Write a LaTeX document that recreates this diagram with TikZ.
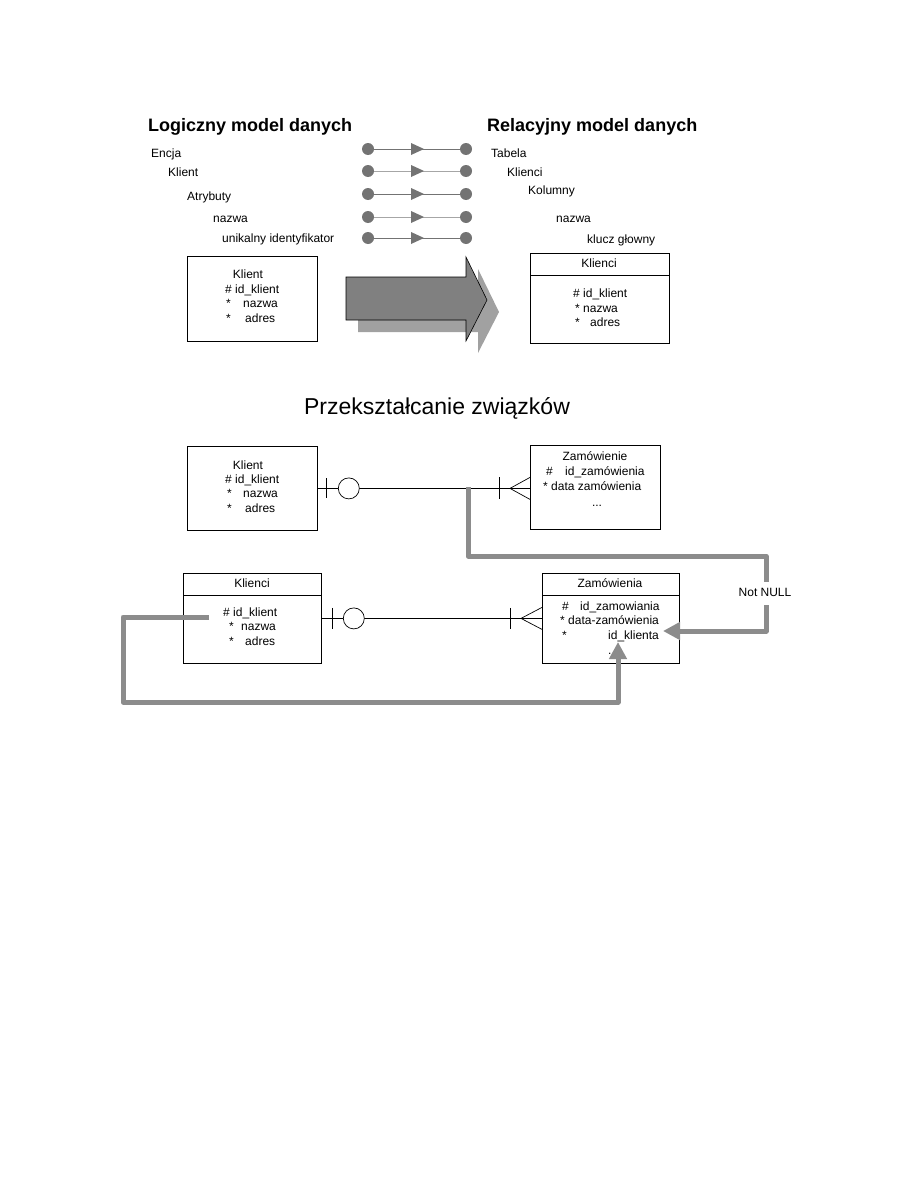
\documentclass[tikz,border=0pt]{standalone}
\usepackage{fontspec}
\setmainfont{Liberation Sans}
\usepackage{tikz}
\usetikzlibrary{arrows.meta,positioning,calc}

\begin{document}
\begin{tikzpicture}[x=1pt, y=-1pt,
    every node/.style={font=\fontsize{12}{14}\selectfont, inner sep=0pt, text height=8.6pt, text depth=2.4pt},
    title/.style={font=\fontsize{18}{20}\selectfont\bfseries, text height=13pt, text depth=4pt},
    box/.style={draw, line width=0.8pt, fill=white},
    rel/.style={line width=0.7pt},
    opt/.style={circle, draw, line width=0.7pt, fill=white, minimum size=21pt},
    ball/.style={circle, fill=black!55, minimum size=12pt, text height=, text depth=},
    fk/.style={line width=5pt, draw=black!45, line join=round, -{Triangle[length=17pt,width=17pt]}},
    lbl/.style={anchor=west}]
  \useasboundingbox (0,0) rectangle (918,1188);

  % Headings
  \node[title, anchor=west] (logic) at (148,127) {Logiczny model danych};
  \node[title, anchor=west] (relac) at (487,127) {Relacyjny model danych};

  % Left list
  \node[lbl] (encja) at (151,154) {Encja};
  \node[lbl] (klientL) at (168,173) {Klient};
  \node[lbl] (atryb) at (187,197) {Atrybuty};
  \node[lbl] (nazwaL) at (213,219) {nazwa};
  \node[lbl] (unik) at (222,239) {unikalny identyfikator};

  % Right list
  \node[lbl] (tabela) at (491,154) {Tabela};
  \node[lbl] (klienciR) at (507,173) {Klienci};
  \node[lbl] (kolumny) at (528,191) {Kolumny};
  \node[lbl] (nazwaR) at (556,219) {nazwa};
  \node[lbl] (klucz) at (587,240) {klucz głowny};

  % Mapping rows
  \foreach \y/\c [count=\i] in {149/55,171/35,194/55,217/35,238/55} {
    \node[ball] (a\i) at (368,\y) {};
    \node[ball] (b\i) at (466,\y) {};
    \draw[draw=black!\c, line width=1pt] (a\i) -- (b\i);
    \fill[black!55] (411,{\y-6}) -- (424,\y) -- (411,{\y+6}) -- cycle;
  }

  % Entity Klient
  \node[box, anchor=north west, minimum width=130pt, minimum height=85pt] (klient1) at (187,256) {};
  \node (k1n) at (248,275) {Klient};
  \node[lbl] (k1id) at (225,290) {\# id\_klient};
  \node[lbl] (k1s1) at (226,304) {*};
  \node[lbl] (k1na) at (243,304) {nazwa};
  \node[lbl] (k1s2) at (226,319) {*};
  \node[lbl] (k1ad) at (245,319) {adres};

  % Big arrow with shadow
  \fill[black!37] (358,289) -- (478,289) -- (478,269) -- (499,312) -- (478,353) -- (478,332) -- (358,332) -- cycle;
  \filldraw[fill=black!50, draw=black, line width=0.6pt] (346,277) -- (466,277) -- (466,257) -- (487,300) -- (466,341) -- (466,320) -- (346,320) -- cycle;

  % Table Klienci
  \node[box, anchor=north west, minimum width=139pt, minimum height=90pt] (klienci1) at (530,253) {};
  \draw[line width=0.8pt] ([yshift=-22pt]klienci1.north west) -- ([yshift=-22pt]klienci1.north east);
  \node (kc1n) at (599,264) {Klienci};
  \node[lbl] (kc1id) at (573,294) {\# id\_klient};
  \node[lbl] (kc1s1) at (575,309) {*};
  \node[lbl] (kc1na) at (583,309) {nazwa};
  \node[lbl] (kc1s2) at (575,323) {*};
  \node[lbl] (kc1ad) at (590,323) {adres};

  % Second heading
  \node[font=\fontsize{23}{26}\selectfont, text height=17pt, text depth=5pt] (przek) at (437,408) {Przekształcanie związków};

  % Relationship Klient - Zamowienie
  \node[box, anchor=north west, minimum width=130pt, minimum height=84pt] (klient2) at (187,446) {};
  \node[box, anchor=north west, minimum width=130pt, minimum height=84pt] (zam2) at (530,445) {};
  \draw[rel] (klient2.east) -- (klient2.east -| zam2.west);
  \draw[rel] ([xshift=9pt]klient2.east) ++(0,-10) -- ++(0,20);
  \node[opt] (o2) at ([xshift=31pt]klient2.east) {};
  \coordinate (c2) at ([xshift=-20pt]klient2.east -| zam2.west);
  \draw[rel] ([yshift=-11pt]klient2.east -| zam2.west) -- (c2) -- ([yshift=11pt]klient2.east -| zam2.west);
  \draw[rel] ([xshift=-31pt]klient2.east -| zam2.west) ++(0,-11) -- ++(0,22);
  \node (k2n) at (248,466) {Klient};
  \node[lbl] (k2id) at (225,480) {\# id\_klient};
  \node[lbl] (k2s1) at (227,494) {*};
  \node[lbl] (k2na) at (243,494) {nazwa};
  \node[lbl] (k2s2) at (227,509) {*};
  \node[lbl] (k2ad) at (245,509) {adres};
  \node (z2n) at (595,457) {Zamówienie};
  \node[lbl] (z2h) at (546,472) {\#};
  \node[lbl] (z2id) at (565,472) {id\_zamówienia};
  \node[lbl] (z2dt) at (543,487) {* data zamówienia};
  \node (z2dd) at (597,503) {...};

  % Tables Klienci - Zamowienia
  \node[box, anchor=north west, minimum width=138pt, minimum height=90pt] (klienci2) at (183,573) {};
  \node[box, anchor=north west, minimum width=137pt, minimum height=90pt] (zam3) at (542,573) {};
  \draw[line width=0.8pt] ([yshift=-22pt]klienci2.north west) -- ([yshift=-22pt]klienci2.north east);
  \draw[line width=0.8pt] ([yshift=-22pt]zam3.north west) -- ([yshift=-22pt]zam3.north east);
  \draw[rel] (klienci2.east) -- (zam3.west);
  \draw[rel] ([xshift=11pt]klienci2.east) ++(0,-10.5) -- ++(0,21);
  \node[opt] (o3) at ([xshift=32pt]klienci2.east) {};
  \coordinate (c3) at ([xshift=-21pt]zam3.west);
  \draw[rel] ([yshift=-11pt]zam3.west) -- (c3) -- ([yshift=11pt]zam3.west);
  \draw[rel] ([xshift=-32pt]zam3.west) ++(0,-10.5) -- ++(0,21);
  \node (kc2n) at (252,584) {Klienci};
  \node[lbl] (kc2id) at (223,613) {\# id\_klient};
  \node[lbl] (kc2s1) at (229,627) {*};
  \node[lbl] (kc2na) at (241,627) {nazwa};
  \node[lbl] (kc2s2) at (229,642) {*};
  \node[lbl] (kc2ad) at (245,642) {adres};
  \node (z3n) at (610,584) {Zamówienia};
  \node[lbl] (z3h) at (562,607) {\#};
  \node[lbl] (z3id) at (580,607) {id\_zamowiania};
  \node[lbl] (z3dt) at (560,621) {* data-zamówienia};
  \node[lbl] (z3s) at (562,636) {*};
  \node[lbl] (z3idk) at (608,636) {id\_klienta};
  \node[lbl] (z3dd) at (608,651) {...};

  % Foreign key paths
  \coordinate (fk1) at (468,487);
  \coordinate (fk1end) at (663,631);
  \draw[fk] (fk1) -- (468,556) -- (766,556) -- (766,631) -- (fk1end);
  \node[fill=white, inner xsep=1pt, inner ysep=6pt] (notnull) at (765,593) {Not NULL};
  \coordinate (fk2) at (209,617);
  \coordinate (fk2end) at (618,642);
  \draw[fk] (fk2) -- (123,617) -- (123,702) -- (618,702) -- (fk2end);
\end{tikzpicture}
\end{document}
